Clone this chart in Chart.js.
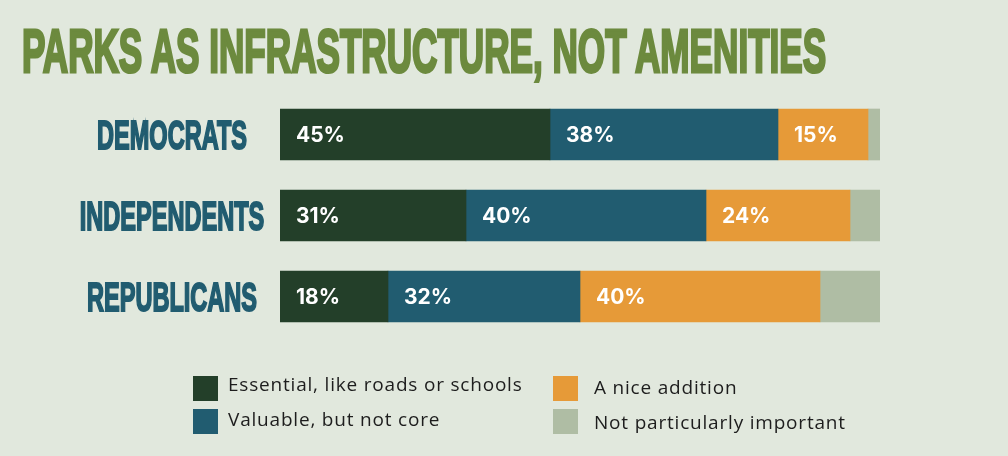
<!DOCTYPE html>
<html>
<head>
<meta charset="utf-8">
<script src="https://cdn.jsdelivr.net/npm/chart.js@4/dist/chart.umd.min.js"></script>
<style>
    html, body { margin: 0; padding: 0; background: #e1e8dd; }
    #wrap { position: relative; width: 1008px; height: 456px; overflow: hidden; }
    #chart { position: absolute; left: 0; top: 0; }
    #title {
        position: absolute; left: 22px; top: 20px; margin: 0;
        font-family: "Liberation Sans Narrow", "Liberation Sans", sans-serif;
        font-weight: 700; font-size: 62px; line-height: 62px;
        color: #6c8a3e; -webkit-text-stroke: 3px #6c8a3e;
        white-space: nowrap; transform-origin: left top;
    }
    .key-box { position: absolute; width: 25px; height: 25px; }
    .key-text {
        position: absolute; font-family: "Open Sans", sans-serif; font-size: 19px;
        line-height: 19px; letter-spacing: 0.8px; color: #1d1d1d; white-space: nowrap;
    }
</style>
</head>
<body>
<div id="wrap">
    <canvas id="chart" width="1008" height="456"></canvas>
    <h1 id="title">PARKS AS INFRASTRUCTURE, NOT AMENITIES</h1>
    <div id="legend"></div>
</div>
<script>
// Survey answers by party, in percent
const categories = ['DEMOCRATS', 'INDEPENDENTS', 'REPUBLICANS'];
const seriesNames = ['Essential, like roads or schools', 'Valuable, but not core', 'A nice addition', 'Not particularly important'];
const essential = [45, 31, 18];
const valuable = [38, 40, 32];
const niceAddition = [15, 24, 40];
const notImportant = [2, 5, 10];

const COLORS = ['#233f29', '#215c70', '#e69a38', '#afbda4'];
const LABEL_COLOR = '#215c70';
const PARTY_FONT = '700 40px "Liberation Sans Narrow", "Liberation Sans", sans-serif';

// squeeze the title into the width it has in the original
const title = document.getElementById('title');
title.style.transform = 'scaleX(' + (804 / title.offsetWidth) + ')';

// writes the percentage inside each labelled segment
const segmentLabels = {
    id: 'segmentLabels',
    afterDatasetsDraw(chart) {
        const ctx = chart.ctx;
        ctx.save();
        ctx.font = '700 21px Inter, sans-serif';
        ctx.fillStyle = '#ffffff';
        ctx.textAlign = 'left';
        ctx.textBaseline = 'alphabetic';
        chart.data.datasets.forEach((ds, i) => {
            if (!ds.showLabel) return;
            chart.getDatasetMeta(i).data.forEach((bar, j) => {
                const left = Math.min(bar.x, bar.base);
                ctx.fillText(ds.data[j] + '%', left + 16, bar.y + 7.5);
            });
        });
        ctx.restore();
    }
};

// condensed party names to the left of the bars
const partyLabels = {
    id: 'partyLabels',
    afterDraw(chart) {
        const ctx = chart.ctx;
        const yScale = chart.scales.y;
        ctx.save();
        ctx.font = PARTY_FONT;
        // same squeeze for all names, sized so the first one is 150px wide
        const squeeze = 150 / ctx.measureText(chart.data.labels[0]).width;
        ctx.fillStyle = LABEL_COLOR;
        ctx.strokeStyle = LABEL_COLOR;
        ctx.lineWidth = 2;
        ctx.textAlign = 'center';
        chart.data.labels.forEach((label, i) => {
            ctx.save();
            ctx.translate(172, yScale.getPixelForValue(i) + 14.3);
            ctx.scale(squeeze, 1);
            ctx.fillText(label, 0, 0);
            ctx.strokeText(label, 0, 0);
            ctx.restore();
        });
        ctx.restore();
    }
};

const values = [essential, valuable, niceAddition, notImportant];

const chart = new Chart(document.getElementById('chart'), {
    type: 'bar',
    data: {
        labels: categories,
        datasets: seriesNames.map((name, i) => ({
            label: name,
            data: values[i],
            backgroundColor: COLORS[i],
            borderWidth: 0,
            barThickness: 51,
            showLabel: i < 3
        }))
    },
    options: {
        indexAxis: 'y',
        responsive: false,
        animation: false,
        layout: { padding: { left: 280, right: 128, top: 94, bottom: 119 } },
        scales: {
            x: { stacked: true, min: 0, max: 100, display: false },
            y: { stacked: true, display: false }
        },
        plugins: {
            legend: { display: false },
            tooltip: { enabled: false }
        }
    },
    plugins: [segmentLabels, partyLabels]
});

// two-column legend: first column holds series 0 and 1, second 2 and 3
const legend = document.getElementById('legend');
const colX = [193, 553];
const rowY = [376, 409];
const textGap = [35, 41];
const textDrop = [-1, 2];
const rowDrop = [0, 2];
chart.data.datasets.forEach((ds, i) => {
    const col = Math.floor(i / 2);
    const row = i % 2;
    const box = document.createElement('div');
    box.className = 'key-box';
    box.style.left = colX[col] + 'px';
    box.style.top = rowY[row] + 'px';
    box.style.background = ds.backgroundColor;
    legend.appendChild(box);
    const text = document.createElement('div');
    text.className = 'key-text';
    text.style.left = (colX[col] + textGap[col]) + 'px';
    text.style.top = (rowY[row] + textDrop[col] + rowDrop[row]) + 'px';
    text.textContent = ds.label;
    legend.appendChild(text);
});
</script>
</body>
</html>
